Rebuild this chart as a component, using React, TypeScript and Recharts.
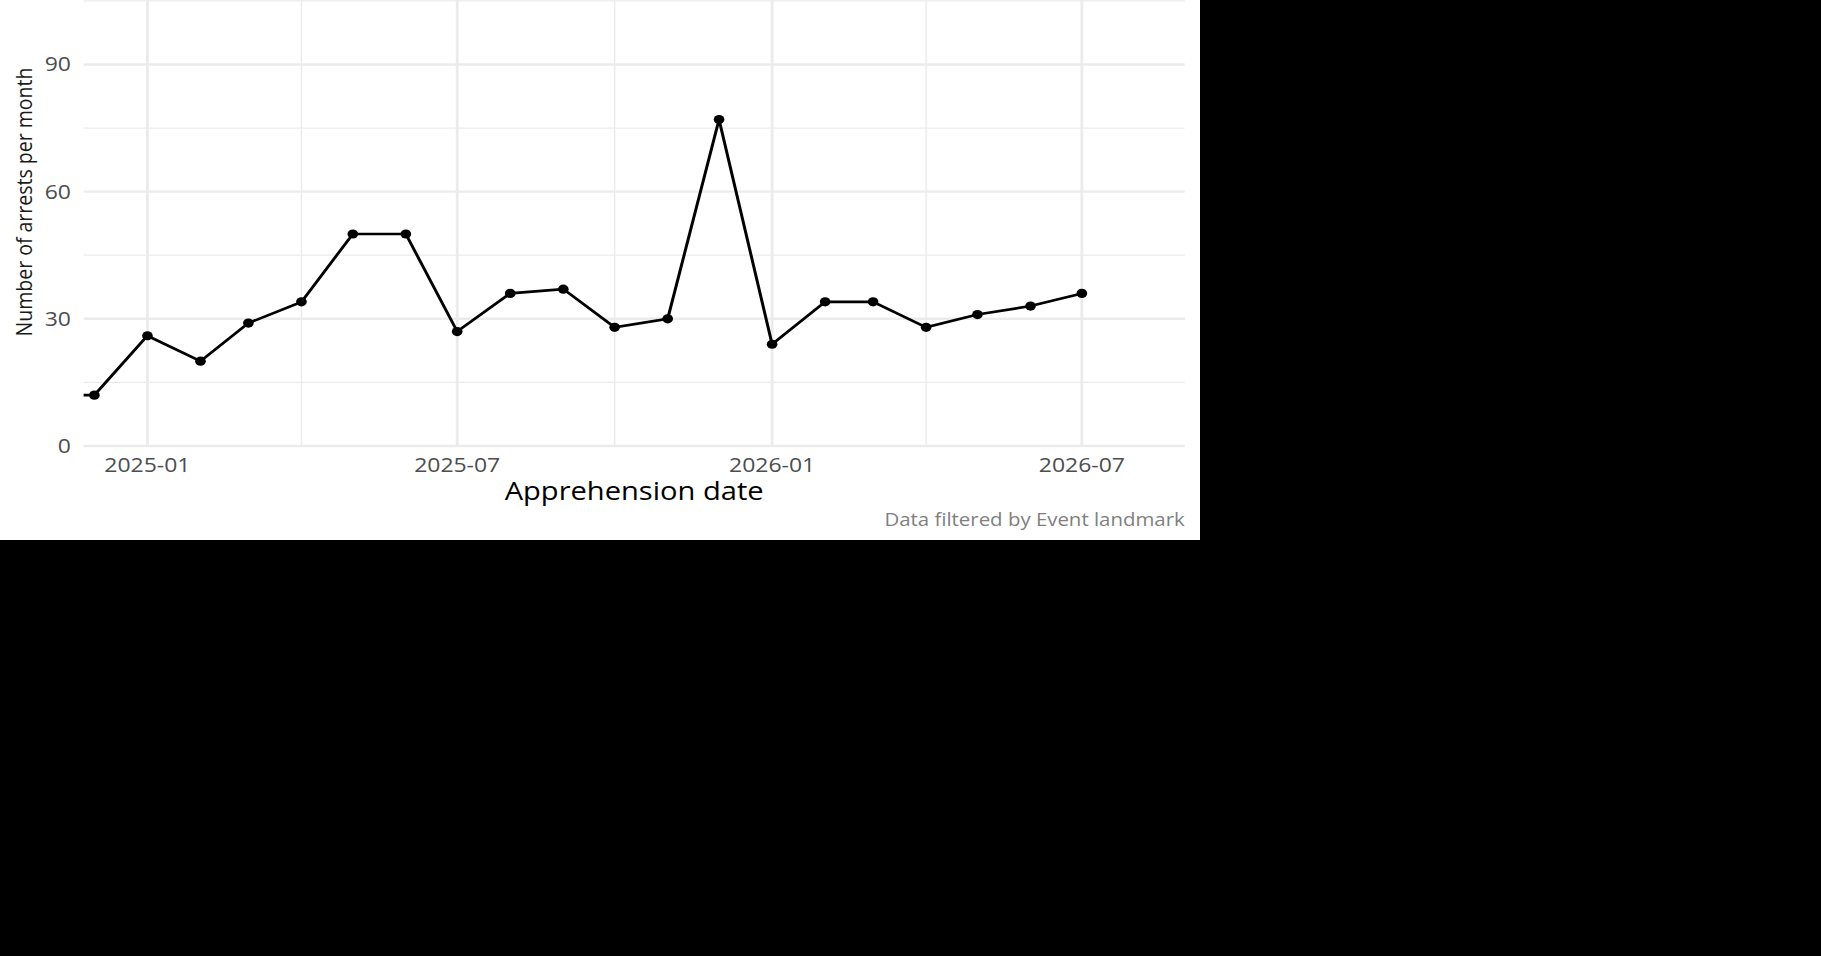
import { Label, Line, LineChart, ReferenceLine, XAxis, YAxis } from "recharts";

// monthly arrest counts, first of each month (the Nov 2024 point sits left of the panel and is clipped)
const MONTHS = [
  "2024-11", "2024-12", "2025-01", "2025-02", "2025-03", "2025-04", "2025-05",
  "2025-06", "2025-07", "2025-08", "2025-09", "2025-10", "2025-11", "2025-12",
  "2026-01", "2026-02", "2026-03", "2026-04", "2026-05", "2026-06", "2026-07",
];
const ARRESTS = [12, 12, 26, 20, 29, 34, 50, 50, 27, 36, 37, 28, 30, 77, 24, 34, 34, 28, 31, 33, 36];

const X_MAJOR = ["2025-01", "2025-07", "2026-01", "2026-07"];
const X_MINOR = ["2025-04", "2025-10", "2026-04"];
const Y_MAJOR = [0, 30, 60, 90];
const Y_MINOR = [15, 45, 75, 105];

const toMs = (ym: string) => {
  const [y, m] = ym.split("-").map(Number);
  return Date.UTC(y, m - 1, 1);
};

const X_DOMAIN: [number, number] = [Date.UTC(2024, 10, 24, 17), Date.UTC(2026, 7, 30, 2)];
const Y_DOMAIN: [number, number] = [0, 105.2];

const data = MONTHS.map((m, i) => ({ t: toMs(m), n: ARRESTS[i] }));

const FONT = "'Open Sans', sans-serif";
const GRID = "#ebebeb";
// the reference is stretched sideways; draw narrow and scale up
const W = 1035;
const H = 540;
const STRETCH = 1200 / W;

const fmtMonth = (v: number) => {
  const d = new Date(v);
  return `${d.getUTCFullYear()}-${String(d.getUTCMonth() + 1).padStart(2, "0")}`;
};

export default function App() {
  return (
    <div style={{ position: "fixed", inset: 0, background: "#000" }}>
      <div
        style={{
          position: "absolute",
          left: 0,
          top: 0,
          width: 1200,
          height: 540,
          background: "#fff",
          overflow: "hidden",
        }}
      >
        <div style={{ width: W, height: H, transform: `scaleX(${STRETCH})`, transformOrigin: "0 0" }}>
          <LineChart width={W} height={H} data={data} margin={{ top: 0, right: 13.2, bottom: 64, left: 0 }}>
            {Y_MINOR.map((v) => (
              <ReferenceLine key={`ym${v}`} y={v} stroke={GRID} strokeWidth={1.2} />
            ))}
            {X_MINOR.map((m) => (
              <ReferenceLine key={`xm${m}`} x={toMs(m)} stroke={GRID} strokeWidth={1.2} />
            ))}
            {Y_MAJOR.map((v) => (
              <ReferenceLine key={`yM${v}`} y={v} stroke={GRID} strokeWidth={2.4} />
            ))}
            {X_MAJOR.map((m) => (
              <ReferenceLine key={`xM${m}`} x={toMs(m)} stroke={GRID} strokeWidth={2.4} />
            ))}
            <XAxis
              type="number"
              dataKey="t"
              domain={X_DOMAIN}
              allowDataOverflow
              ticks={X_MAJOR.map(toMs)}
              interval={0}
              tickFormatter={fmtMonth}
              tick={{ fill: "#4d4d4d", fontSize: 19.8, fontFamily: FONT }}
              tickLine={false}
              axisLine={false}
              tickSize={0}
              tickMargin={11.6}
              height={30}
            >
              <Label
                content={({ viewBox }: any) => (
                  <text
                    x={viewBox.x + viewBox.width / 2}
                    y={500}
                    textAnchor="middle"
                    fontSize={25.1}
                    fontFamily={FONT}
                    fill="#000"
                  >
                    Apprehension date
                  </text>
                )}
              />
              <Label
                content={({ viewBox }: any) => (
                  <text
                    x={viewBox.x + viewBox.width}
                    y={526}
                    textAnchor="end"
                    fontSize={17.6}
                    fontFamily={FONT}
                    fill="#7f7f7f"
                  >
                    Data filtered by Event landmark
                  </text>
                )}
              />
            </XAxis>
            <YAxis
              type="number"
              domain={Y_DOMAIN}
              allowDataOverflow
              ticks={Y_MAJOR}
              interval={0}
              width={72.1}
              tick={{ fill: "#4d4d4d", fontSize: 19.8, fontFamily: FONT }}
              tickLine={false}
              axisLine={false}
              tickSize={0}
              tickMargin={10.9}
            >
              <Label
                content={() => (
                  <text
                    transform="translate(27.8, 202) rotate(-90)"
                    textAnchor="middle"
                    fontSize={19.5}
                    fontFamily={FONT}
                    fill="#1a1a1a"
                  >
                    Number of arrests per month
                  </text>
                )}
              />
            </YAxis>
            <Line
              dataKey="n"
              stroke="#000"
              strokeWidth={2.6}
              dot={{ r: 4.6, fill: "#000", stroke: "none" }}
              activeDot={false}
              isAnimationActive={false}
            />
          </LineChart>
        </div>
      </div>
    </div>
  );
}
